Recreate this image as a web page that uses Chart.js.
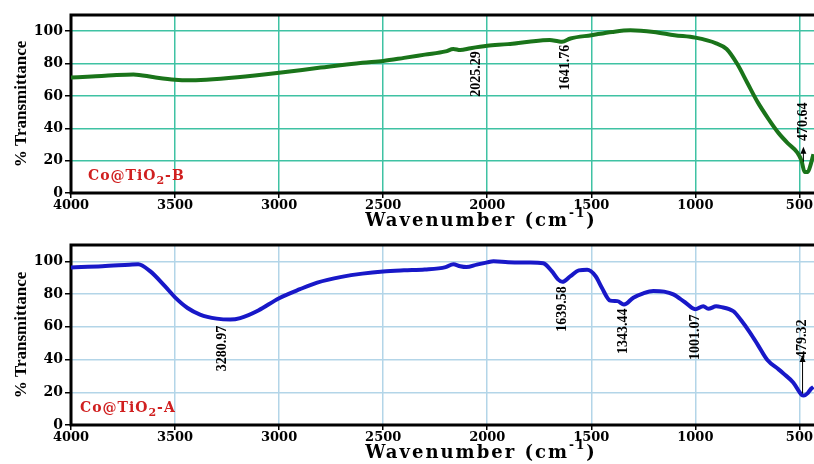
<!DOCTYPE html>
<html>
<head>
<meta charset="utf-8">
<script src="https://cdn.jsdelivr.net/npm/chart.js@4.4.1/dist/chart.umd.min.js"></script>
<style>
  html, body { margin: 0; padding: 0; background: #fff; overflow: hidden; }
  .box { position: absolute; left: 0; width: 814px; height: 232px; }
</style>
</head>
<body>
<div class="box" style="top:0"><canvas id="chartB" width="814" height="232"></canvas></div>
<div class="box" style="top:232px"><canvas id="chartA" width="814" height="232"></canvas></div>
<script>
// shared axis ticks
var xTicks = [4000, 3500, 3000, 2500, 2000, 1500, 1000, 500];
var yTicks = [0, 20, 40, 60, 80, 100];

// Co@TiO2-B spectrum (wavenumber, % transmittance)
var wnB = [4000, 3900, 3800, 3700, 3600, 3500, 3440, 3350, 3200, 3000, 2800, 2600, 2500, 2400, 2300, 2200, 2163, 2130, 2080, 2000,
           1900, 1800, 1700, 1660, 1641, 1600, 1500, 1400, 1312, 1200, 1100, 1000, 900, 850, 800, 750, 700, 650, 600, 550,
           510, 490, 475, 460, 445, 433];
var tB  = [71.4, 72, 72.8, 73.3, 71.5, 70, 69.6, 70, 71.5, 74.3, 77.5, 80.5, 81.6, 83.5, 85.5, 87.5, 89, 88.3, 89.5, 91,
           92, 93.5, 94.5, 93.8, 93.5, 95.5, 97.5, 99.5, 100.5, 99.5, 97.5, 96, 92.5, 89, 80, 68, 56, 46, 37, 30,
           25, 20, 13, 13, 18, 24];

// Co@TiO2-A spectrum
var wnA = [4000, 3850, 3720, 3677, 3620, 3550, 3500, 3440, 3380, 3300, 3235, 3187, 3100, 3000, 2900, 2817, 2700, 2600, 2500, 2400,
           2300, 2200, 2163, 2130, 2100, 2050, 2000, 1970, 1900, 1800, 1731, 1690, 1660, 1639, 1600, 1560, 1520, 1480, 1450, 1409,
           1375, 1343, 1298, 1250, 1202, 1150, 1106, 1050, 1001, 962, 938, 900, 880, 817, 780, 736, 700, 654, 600, 577,
           530, 490, 479, 460, 445, 433];
var tA  = [96.3, 97, 98, 98.3, 94, 85, 78, 71.5, 67.5, 65, 64.4, 65.3, 70, 77.5, 83, 87, 90.5, 92.5, 93.8, 94.5,
           95, 96.5, 98.3, 97, 96.5, 98, 99.4, 100, 99.5, 99.3, 98.8, 94, 89, 87.5, 91, 94.5, 94.8, 91, 84, 76,
           75.7, 73.6, 77.8, 80.5, 81.9, 81.5, 79.8, 75, 70.8, 72.6, 71, 72.5, 72.2, 69.5, 64, 56.2, 49, 39.7, 34, 31.5,
           26, 18.5, 18, 19.5, 22, 23.2];

// peak labels: text, wavenumber, label centre (%T)
var peakTextB = ['2025.29', '1641.76', '470.64'];
var peakXB = [2050, 1625, 481];
var peakYB = [73.6, 77.6, 44];
var arrowB = [481, 19.3, 28.6];

var peakTextA = ['3280.97', '1639.58', '1343.44', '1001.07', '479.32'];
var peakXA = [3274, 1639, 1346, 1000, 485];
var peakYA = [46.8, 70.9, 57.3, 53.6, 52.7];
var arrowA = [485, 19.3, 42.8];

var serif = '"Liberation Serif", "Times New Roman", serif';
var wideSerif = '"DejaVu Serif", serif';

var framePlugin = {
    id: 'frame',
    beforeDatasetsDraw: function (chart) {
        var a = chart.chartArea, ctx = chart.ctx;
        ctx.save();
        ctx.strokeStyle = '#000';
        ctx.lineWidth = 3;
        ctx.beginPath();
        ctx.moveTo(chart.width + 5, a.top);
        ctx.lineTo(a.left, a.top);
        ctx.lineTo(a.left, a.bottom);
        ctx.lineTo(chart.width + 5, a.bottom);
        ctx.stroke();
        ctx.restore();
    }
};

function textPlugin(cfg) {
    return {
        id: 'texts',
        afterDraw: function (chart) {
            var a = chart.chartArea, ctx = chart.ctx;
            var xs = chart.scales.x, ys = chart.scales.y;
            ctx.save();
            ctx.fillStyle = '#000';

            // y title
            ctx.save();
            ctx.translate(22, (a.top + a.bottom) / 2);
            ctx.rotate(-Math.PI / 2);
            ctx.font = 'bold 17px ' + serif;
            ctx.textAlign = 'center';
            ctx.textBaseline = 'middle';
            ctx.fillText('% Transmittance', 0, 0);
            ctx.restore();

            // x title
            ctx.save();
            ctx.letterSpacing = '2px';
            ctx.textBaseline = 'alphabetic';
            var main = 'Wavenumber (cm';
            ctx.font = 'bold 18px ' + wideSerif;
            var w1 = ctx.measureText(main).width;
            ctx.font = 'bold 12px ' + wideSerif;
            var w2 = ctx.measureText('-1').width;
            ctx.font = 'bold 18px ' + wideSerif;
            var w3 = ctx.measureText(')').width;
            var x0 = 481 - (w1 + w2 + w3) / 2;
            var base = a.bottom + 33;
            ctx.fillText(main, x0, base);
            ctx.font = 'bold 12px ' + wideSerif;
            ctx.fillText('-1', x0 + w1, base - 9);
            ctx.font = 'bold 18px ' + wideSerif;
            ctx.fillText(')', x0 + w1 + w2, base);
            ctx.restore();

            // sample name
            ctx.save();
            ctx.fillStyle = '#d01f1f';
            ctx.letterSpacing = '1px';
            var sx = a.left + cfg.nameDx, sy = a.bottom - 13;
            ctx.font = 'bold 14px ' + wideSerif;
            ctx.fillText('Co@TiO', sx, sy);
            sx += ctx.measureText('Co@TiO').width;
            ctx.font = 'bold 11px ' + wideSerif;
            ctx.fillText('2', sx, sy + 4);
            sx += ctx.measureText('2').width;
            ctx.font = 'bold 14px ' + wideSerif;
            ctx.fillText('-' + cfg.suffix, sx, sy);
            ctx.restore();

            // peak labels
            ctx.font = 'bold 14px ' + serif;
            ctx.textAlign = 'center';
            ctx.textBaseline = 'middle';
            cfg.peakText.forEach(function (t, i) {
                ctx.save();
                ctx.translate(xs.getPixelForValue(cfg.peakX[i]), ys.getPixelForValue(cfg.peakY[i]));
                ctx.rotate(-Math.PI / 2);
                ctx.fillText(t, 0, 0);
                ctx.restore();
            });

            // arrow
            var ax = xs.getPixelForValue(cfg.arrow[0]);
            var y1 = ys.getPixelForValue(cfg.arrow[1]);
            var y2 = ys.getPixelForValue(cfg.arrow[2]);
            ctx.strokeStyle = '#000';
            ctx.lineWidth = 1;
            ctx.beginPath();
            ctx.moveTo(ax, y1);
            ctx.lineTo(ax, y2 + 5);
            ctx.stroke();
            ctx.beginPath();
            ctx.moveTo(ax, y2);
            ctx.lineTo(ax - 3, y2 + 7);
            ctx.lineTo(ax + 3, y2 + 7);
            ctx.closePath();
            ctx.fill();
            ctx.restore();
        }
    };
}

function buildChart(id, cfg) {
    var points = cfg.wn.map(function (w, i) { return { x: w, y: cfg.t[i] }; });
    return new Chart(document.getElementById(id), {
        type: 'line',
        data: {
            datasets: [{
                data: points,
                borderColor: cfg.color,
                borderWidth: 4,
                pointRadius: 0,
                cubicInterpolationMode: 'monotone',
                fill: false
            }]
        },
        options: {
            responsive: false,
            animation: false,
            layout: { padding: { top: cfg.top, right: 0, left: 0, bottom: 0 } },
            plugins: { legend: { display: false }, tooltip: { enabled: false } },
            scales: {
                x: {
                    type: 'linear',
                    reverse: true,
                    min: 430,
                    max: 4000,
                    afterBuildTicks: function (s) { s.ticks = xTicks.map(function (v) { return { value: v }; }); },
                    afterFit: function (s) { s.height = 39; },
                    border: { display: false },
                    grid: { color: cfg.grid, lineWidth: 1.5, tickColor: '#000', tickLength: 5 },
                    ticks: {
                        color: '#000',
                        font: { family: wideSerif, weight: 'bold', size: 13 },
                        padding: 0,
                        maxRotation: 0,
                        autoSkip: false,
                        callback: function (v) { return String(v); }
                    }
                },
                y: {
                    min: 0,
                    max: 110,
                    afterBuildTicks: function (s) { s.ticks = yTicks.map(function (v) { return { value: v }; }); },
                    afterFit: function (s) { s.width = 71; },
                    border: { display: false },
                    grid: { color: cfg.grid, lineWidth: 1.5, tickColor: '#000', tickLength: 6 },
                    ticks: {
                        color: '#000',
                        font: { family: wideSerif, weight: 'bold', size: 14 },
                        padding: 2
                    }
                }
            }
        },
        plugins: [framePlugin, textPlugin(cfg)]
    });
}

buildChart('chartB', {
    wn: wnB, t: tB, color: '#1a741a', grid: '#3fc2a3', top: 15,
    nameDx: 17, suffix: 'B',
    peakText: peakTextB, peakX: peakXB, peakY: peakYB, arrow: arrowB
});

buildChart('chartA', {
    wn: wnA, t: tA, color: '#1818c8', grid: '#b3d5e8', top: 13,
    nameDx: 9, suffix: 'A',
    peakText: peakTextA, peakX: peakXA, peakY: peakYA, arrow: arrowA
});
</script>
</body>
</html>
